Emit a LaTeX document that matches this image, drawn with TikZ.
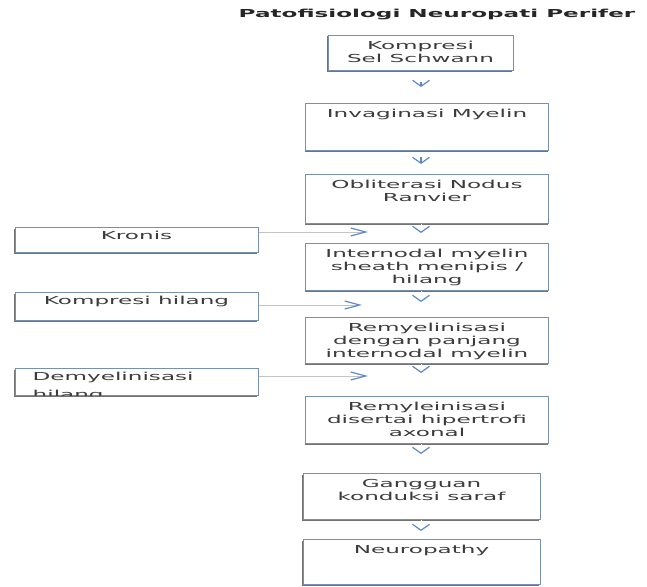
\documentclass[tikz,border=0pt]{standalone}
\usepackage{fontspec}
\setmainfont{DejaVu Sans}[FakeStretch=2.1]
\usetikzlibrary{arrows.meta,shadows}
\definecolor{boxline}{HTML}{7890B0}
\definecolor{arrowblue}{HTML}{5E8AC7}
\definecolor{linegray}{HTML}{C4C4C4}
\definecolor{textgray}{HTML}{3C3C3C}
\begin{document}
\begin{tikzpicture}[x=1pt, y=-1pt, font=\fontsize{11}{13}\selectfont, text=textgray,
  box/.style={draw=boxline, line width=1pt, fill=white, anchor=north, align=center,
    inner ysep=4pt, text height=10pt, text depth=29pt, minimum width=243pt,
    drop shadow={shadow xshift=-1pt, shadow yshift=-1pt, fill=black!55, opacity=1}},
  two/.style={text height=23pt},
  three/.style={text height=36pt},
  sidebox/.style={box, inner ysep=3pt, text height=9pt, text depth=10pt},
  stem/.style={draw=arrowblue, line width=1.2pt, -{Straight Barb[length=6pt, width=17pt]}},
  down/.style={draw=white, -{Straight Barb[color=arrowblue, length=6pt, width=17pt, line width=1.2pt]}},
  side/.style={draw=linegray, line width=.6pt, -{Straight Barb[color=arrowblue, length=15pt, width=8pt, line width=1.2pt]}}]
\useasboundingbox (0,0) rectangle (647,586);
\coordinate (axis) at (421,0);
\node[font=\fontsize{11}{13}\selectfont\bfseries, text=black!85] (title) at (437,15) {Patofisiologi Neuropati Perifer};
% main column
\node[box, two, minimum width=185pt, text depth=4pt] (kompresi) at (420.5,35) {Kompresi\\Sel Schwann};
\node[box] (invaginasi) at (427,103) {Invaginasi Myelin};
\node[box, two, text depth=18pt] (obliterasi) at (427,174) {Obliterasi Nodus\\Ranvier};
\node[box, three, text depth=3pt] (internodal) at (427,243) {Internodal myelin\\sheath menipis /\\hilang};
\node[box, three, text depth=2pt] (remyelin) at (427,317) {Remyelinisasi\\dengan panjang\\internodal myelin};
\node[box, three, text depth=3pt] (remyleini) at (427,396) {Remyleinisasi\\disertai hipertrofi\\axonal};
\node[box, two, minimum width=237pt, text depth=15pt] (gangguan) at (421.5,473) {Gangguan\\konduksi saraf};
\node[box, minimum width=237pt, text depth=27pt] (neuropathy) at (421.5,539) {Neuropathy};
% side column
\node[sidebox] (kronis) at (136.5,227) {Kronis};
\node[sidebox, text depth=13pt] (kompresihilang) at (136.5,292) {Kompresi hilang};
\node[sidebox, text depth=12pt] (demyel) at (136.5,368) {};
\begin{scope}
\clip ([xshift=1pt,yshift=-1pt]demyel.north west) rectangle ([xshift=-1pt,yshift=1pt]demyel.south east);
\node[anchor=north west, align=left, inner sep=0pt, font=\fontsize{11}{18}\selectfont] (demyeltext) at ([xshift=18pt,yshift=-4pt]demyel.north west) {Demyelinisasi\\hilang};
\end{scope}
% arrows
\draw[stem, shorten <=11pt, shorten >=16pt](kompresi.south -| axis)--(invaginasi.north -| axis);
\draw[stem, shorten <=6pt, shorten >=10pt](invaginasi.south -| axis)--(obliterasi.north -| axis);
\draw[down, shorten >=10pt](obliterasi.south -| axis)--(internodal.north -| axis);
\draw[down, shorten >=15pt](internodal.south -| axis)--(remyelin.north -| axis);
\draw[down, shorten >=23pt](remyelin.south -| axis)--(remyleini.north -| axis);
\draw[down, shorten >=19pt](remyleini.south -| axis)--(gangguan.north -| axis);
\draw[down, shorten >=8pt](gangguan.south -| axis)--(neuropathy.north -| axis);
\coordinate (kronisend) at (368,232);
\coordinate (hilangend) at (362,305);
\coordinate (demyelend) at (368,376);
\draw[side](kronis.east |- kronisend)--(kronisend);
\draw[side](kompresihilang.east |- hilangend)--(hilangend);
\draw[side](demyel.east |- demyelend)--(demyelend);
\end{tikzpicture}
\end{document}
